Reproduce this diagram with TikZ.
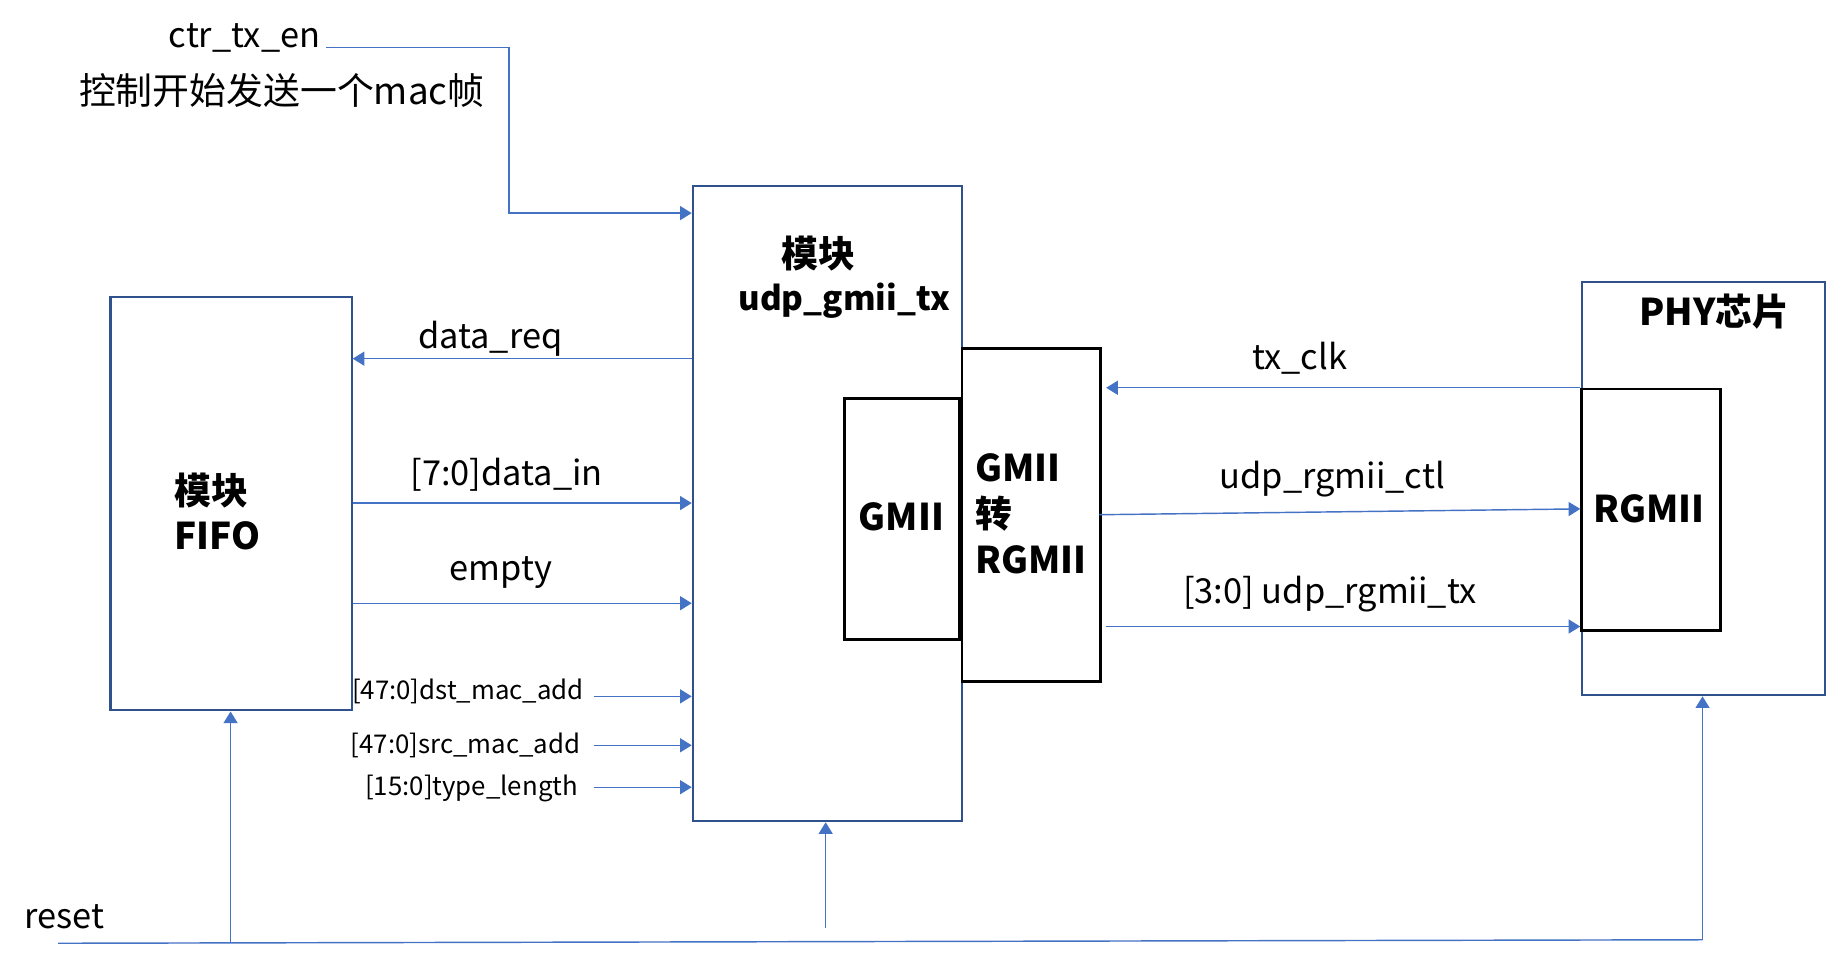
\documentclass[tikz,border=0pt]{standalone}
\usepackage{fontspec}
\setmainfont{Noto Sans CJK SC}
\usetikzlibrary{arrows.meta,calc}
\definecolor{boxblue}{RGB}{47,82,143}
\definecolor{sigblue}{RGB}{68,114,196}
\begin{document}
\begin{tikzpicture}[x=0.01cm,y=-0.01cm,
  bbox/.style={draw=boxblue, line width=0.5pt, anchor=north west, inner sep=0},
  kbox/.style={draw=black, line width=0.65pt, anchor=north west, inner sep=0},
  sig/.style={draw=sigblue, line width=0.35pt, -{Triangle[length=1mm,width=1.2mm]}},
  wire/.style={draw=sigblue, line width=0.35pt},
  lab/.style={font=\fontsize{8.4}{10}\selectfont, inner sep=0},
  slab/.style={font=\fontsize{6.3}{7.5}\selectfont, inner sep=0},
  blab/.style={font=\fontsize{9}{11}\selectfont\bfseries, inner sep=0, align=left}]
\useasboundingbox (0,0) rectangle (1568,825);

% boxes
\node[bbox, minimum width=2.31cm, minimum height=5.45cm] (udp) at (594,159) {};
\node[bbox, minimum width=2.07cm, minimum height=3.55cm] (fifo) at (94,254) {};
\node[bbox, minimum width=2.08cm, minimum height=3.55cm] (phy) at (1358,241) {};
\node[kbox, minimum width=0.99cm, minimum height=2.07cm] (gmii) at (724,341) {};
\node[kbox, minimum width=1.19cm, minimum height=2.86cm] (conv) at (825,298) {};
\node[kbox, minimum width=1.19cm, minimum height=2.07cm] (rgmii) at (1357,333) {};

% box texts
\node[blab] (udpt1) at (703,218) {模块};
\node[blab, font=\fontsize{8.1}{10}\selectfont\bfseries] (udpt2) at (725,258) {udp\_gmii\_tx};
\node[blab, anchor=west] (fifot) at (149,439) {模块\\FIFO};
\node[blab] (gmiit) at (774,444) {GMII};
\node[blab, anchor=west, font=\fontsize{9}{11.2}\selectfont\bfseries] (convt) at (837,441) {GMII\\转\\RGMII};
\node[blab] (phyt) at (1472,268) {PHY芯片};
\node[blab] (rgmiit) at (1416,437) {RGMII};

% top control signal
\node[lab] (ctrl) at (210,33) {ctr\_tx\_en};
\node[lab, font=\fontsize{9}{11}\selectfont] (ctrlcn) at (242,78) {控制开始发送一个mac帧};
\coordinate (ctrA) at (280,41);
\coordinate (ctrB) at (437,183);
\draw[sig] (ctrA) -| (ctrB) -- (ctrB -| udp.west);

% FIFO <-> udp signals
\coordinate (yreq) at (0,308);
\coordinate (yin) at (0,432);
\coordinate (yemp) at (0,518);
\draw[sig] (udp.west |- yreq) -- (fifo.east |- yreq);
\draw[sig] (fifo.east |- yin) -- (udp.west |- yin);
\draw[sig] (fifo.east |- yemp) -- (udp.west |- yemp);
\node[lab] (lreq) at (421,291) {data\_req};
\node[lab] (lin) at (435,408) {[7:0]data\_in};
\node[lab] (lemp) at (430,492) {empty};

% mac inputs
\node[slab, anchor=east] (ldst) at (502,594) {[47:0]dst\_mac\_add};
\node[slab, anchor=east] (lsrc) at (499,640) {[47:0]src\_mac\_add};
\node[slab, anchor=east] (ltyp) at (497,677) {[15:0]type\_length};
\coordinate (d1) at (510,598);
\coordinate (d2) at (510,640);
\coordinate (d3) at (510,676);
\draw[sig] (d1) -- (d1 -| udp.west);
\draw[sig] (d2) -- (d2 -| udp.west);
\draw[sig] (d3) -- (d3 -| udp.west);

% PHY side
\coordinate (yclk) at (0,333);
\coordinate (ytx) at (0,538);
\coordinate (ctlA) at (944,442);
\coordinate (ctlB) at (1357,437);
\draw[sig] (rgmii.west |- yclk) -- ([xshift=1]conv.east |- yclk);
\draw[sig] (ctlA) -- (ctlB);
\draw[sig] ([xshift=1]conv.east |- ytx) -- (rgmii.west |- ytx);
\node[lab] (lclk) at (1116,308) {tx\_clk};
\node[lab] (lctl) at (1144,411) {udp\_rgmii\_ctl};
\node[lab] (ltx) at (1142,510) {[3:0] udp\_rgmii\_tx};

% reset
\node[lab] (lrst) at (55,787) {reset};
\coordinate (rA) at (50,810);
\coordinate (rB) at (1462,807);
\coordinate (rF) at (198,810);
\coordinate (rU) at (709,797);
\draw[wire] (rA) -- (rB);
\draw[sig] (rF) -- (rF |- fifo.south);
\draw[sig] (rU) -- (rU |- udp.south);
\draw[sig] (rB) -- (rB |- phy.south);
\end{tikzpicture}
\end{document}
